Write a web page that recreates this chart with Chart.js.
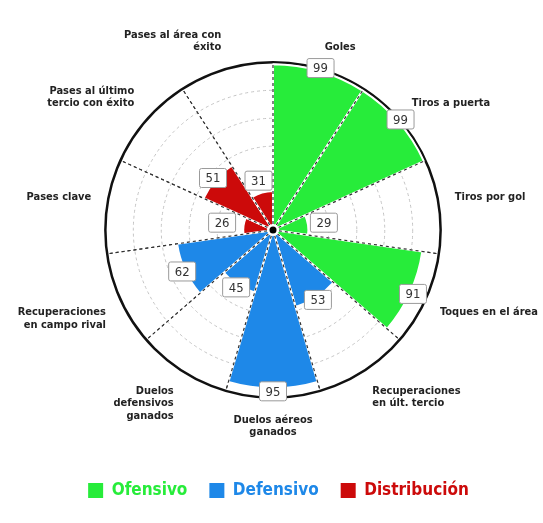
<!DOCTYPE html>
<html>
<head>
<meta charset="utf-8">
<script src="https://cdn.jsdelivr.net/npm/chart.js@4"></script>
<style>
  html, body { margin: 0; padding: 0; background: #fff; }
  #chart { width: 543px; height: 523px; }
</style>
</head>
<body>
<div id="chart"><canvas id="c"></canvas></div>
<script>
const categories = [
  ['Goles'],
  ['Tiros a puerta'],
  ['Tiros por gol'],
  ['Toques en el área'],
  ['Recuperaciones', 'en últ. tercio'],
  ['Duelos aéreos', 'ganados'],
  ['Duelos', 'defensivos', 'ganados'],
  ['Recuperaciones', 'en campo rival'],
  ['Pases clave'],
  ['Pases al último', 'tercio con éxito'],
  ['Pases al área con', 'éxito']
]
const values = [99, 99, 29, 91, 53, 95, 45, 62, 26, 51, 31]
const groups = [0, 0, 0, 0, 1, 1, 1, 1, 2, 2, 2]
const groupNames = ['Ofensivo', 'Defensivo', 'Distribución']
const groupColors = ['#27ec3a', '#1e88e8', '#cc0a0a']

const FONT = "'Liberation Sans Narrow', 'DejaVu Sans Condensed', Roboto, sans-serif"

// dashed separators over the bars, value boxes and the centre dot
const overlay = {
  id: 'overlay',
  afterDatasetsDraw(chart) {
    const ctx = chart.ctx
    const scale = chart.scales.r
    const cx = scale.xCenter, cy = scale.yCenter
    const outer = scale.getDistanceFromCenterForValue(scale.max)

    ctx.save()
    ctx.setLineDash([3, 3])
    ctx.strokeStyle = '#333'
    ctx.lineWidth = 1.2
    for (let i = 0; i < categories.length; i++) {
      const p = scale.getPointPosition(i, outer)
      ctx.beginPath()
      ctx.moveTo(cx, cy)
      ctx.lineTo(p.x, p.y)
      ctx.stroke()
    }
    ctx.restore()

    const meta = chart.getDatasetMeta(0)
    const minR = scale.getDistanceFromCenterForValue(36)
    ctx.save()
    ctx.font = '13px ' + FONT
    ctx.textAlign = 'center'
    ctx.textBaseline = 'middle'
    meta.data.forEach((arc, i) => {
      const mid = (arc.startAngle + arc.endAngle) / 2
      const r = Math.max(arc.outerRadius, minR) + 3
      const x = arc.x + Math.cos(mid) * r
      const y = arc.y + Math.sin(mid) * r
      const w = 27, h = 19
      ctx.fillStyle = '#fff'
      ctx.strokeStyle = '#9a9a9a'
      ctx.lineWidth = 1
      ctx.beginPath()
      ctx.roundRect(x - w / 2, y - h / 2, w, h, 2)
      ctx.fill()
      ctx.stroke()
      ctx.fillStyle = '#333'
      ctx.fillText(String(values[i]), x, y + 1)
    })

    ctx.beginPath()
    ctx.arc(cx, cy, 6, 0, Math.PI * 2)
    ctx.fillStyle = '#fff'
    ctx.fill()
    ctx.beginPath()
    ctx.arc(cx, cy, 3.5, 0, Math.PI * 2)
    ctx.fillStyle = '#000'
    ctx.fill()
    ctx.restore()
  }
}

new Chart(document.getElementById('c'), {
  type: 'polarArea',
  data: {
    labels: categories,
    datasets: [{
      data: values,
      backgroundColor: groups.map(g => groupColors[g]),
      borderColor: '#fff',
      borderWidth: 2
    }]
  },
  options: {
    responsive: true,
    maintainAspectRatio: false,
    animation: false,
    layout: { padding: { top: 10, bottom: 14, left: 14, right: 0 } },
    scales: {
      r: {
        min: 10,
        max: 100,
        ticks: { display: false, stepSize: 15 },
        grid: {
          circular: true,
          color: c => c.tick && c.tick.value === 100 ? '#111' : '#c4c4c4',
          lineWidth: c => c.tick && c.tick.value === 100 ? 2.5 : 1
        },
        border: {
          dash: c => c.tick && c.tick.value === 100 ? [] : [3, 3]
        },
        angleLines: { display: true, color: '#333', borderDash: [3, 3] },
        pointLabels: {
          display: true,
          centerPointLabels: true,
          padding: 16,
          color: '#222',
          font: { family: FONT, size: 11, weight: 'bold', lineHeight: 1.15 }
        }
      }
    },
    plugins: {
      tooltip: { enabled: false },
      legend: {
        position: 'bottom',
        onClick: null,
        labels: {
          boxWidth: 15,
          boxHeight: 15,
          padding: 22,
          font: { family: FONT, size: 17, weight: 'bold' },
          generateLabels: () => groupNames.map((g, i) => ({
            text: g,
            fillStyle: groupColors[i],
            strokeStyle: groupColors[i],
            lineWidth: 0,
            fontColor: groupColors[i],
            hidden: false
          }))
        }
      }
    }
  },
  plugins: [overlay]
})
</script>
</body>
</html>
